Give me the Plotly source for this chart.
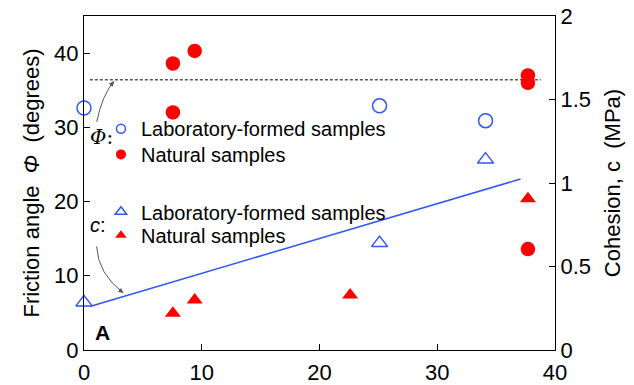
import plotly.graph_objects as go

# ---- data ----
phi_lab_x = [0, 25.1, 34.1]
phi_lab_y = [32.6, 32.9, 30.9]
phi_nat_x = [7.55, 7.55, 9.4, 37.7, 37.7, 37.7]
phi_nat_y = [38.6, 32.0, 40.3, 37.0, 36.0, 13.6]
c_lab_x = [0, 25.1, 34.1]
c_lab_y = [0.285, 0.64, 1.14]
c_nat_x = [7.55, 9.4, 22.6, 37.7]
c_nat_y = [0.22, 0.30, 0.33, 0.905]
fit_x = [0.57, 37.07]
fit_c = [0.262, 1.024]
ref_x = [0.5, 38.8]
ref_phi = [36.4, 36.4]
x_ticks = [0, 10, 20, 30, 40]
phi_ticks = [0, 10, 20, 30, 40]
c_ticks = [0, 0.5, 1, 1.5, 2]
c_tick_text = ["0", "0.5", "1", "1.5", "2"]

BLUE = "#3056F5"
RED = "#FF0000"
FONT = "Arial, Liberation Sans, sans-serif"

fig = go.Figure()

# data marks
fig.add_trace(go.Scatter(x=ref_x, y=ref_phi, mode="lines",
                         line=dict(color="black", width=1, dash="3px,2px"), showlegend=False))
fig.add_trace(go.Scatter(x=phi_lab_x, y=phi_lab_y, mode="markers", cliponaxis=False,
                         marker=dict(symbol="circle-open", size=14, color=BLUE, line=dict(width=1.5, color=BLUE)),
                         showlegend=False))
fig.add_trace(go.Scatter(x=phi_nat_x, y=phi_nat_y, mode="markers", cliponaxis=False,
                         marker=dict(symbol="circle", size=14.5, color=RED), showlegend=False))
fig.add_trace(go.Scatter(x=fit_x, y=fit_c, mode="lines", yaxis="y2",
                         line=dict(color=BLUE, width=1.5), showlegend=False))
fig.add_trace(go.Scatter(x=c_lab_x, y=c_lab_y, mode="markers", yaxis="y2", cliponaxis=False,
                         marker=dict(symbol="triangle-up-open", size=14, color=BLUE, line=dict(width=1.5, color=BLUE)),
                         showlegend=False))
fig.add_trace(go.Scatter(x=c_nat_x, y=c_nat_y, mode="markers", yaxis="y2", cliponaxis=False,
                         marker=dict(symbol="triangle-up", size=14, color=RED), showlegend=False))

# legend entries (one legend per row for exact placement)
fig.add_trace(go.Scatter(x=[None], y=[None], mode="markers", name="Laboratory-formed samples",
                         marker=dict(symbol="circle-open", size=9, color=BLUE, line=dict(width=1.5, color=BLUE)),
                         legend="legend"))
fig.add_trace(go.Scatter(x=[None], y=[None], mode="markers", name="Natural samples",
                         marker=dict(symbol="circle", size=10, color=RED), legend="legend2"))
fig.add_trace(go.Scatter(x=[None], y=[None], mode="markers", name="Laboratory-formed samples",
                         marker=dict(symbol="triangle-up-open", size=10, color=BLUE, line=dict(width=1.5, color=BLUE)),
                         legend="legend3"))
fig.add_trace(go.Scatter(x=[None], y=[None], mode="markers", name="Natural samples",
                         marker=dict(symbol="triangle-up", size=10, color=RED), legend="legend4"))

ARROW = "#555555"
fig.add_shape(type="path", xref="x", yref="y",
              path="M 1.08,30.74 Q 1.53,34.32 2.55,36.2", line=dict(color=ARROW, width=1))
fig.add_shape(type="path", xref="x", yref="y",
              path="M 1.07,13.95 Q 1.19,10.28 3.34,7.68", line=dict(color=ARROW, width=1))
fig.add_annotation(x=2.55, y=36.2, xref="x", yref="y", ax=-5, ay=6, text="", showarrow=True,
                   arrowhead=2, arrowsize=1, arrowwidth=1, arrowcolor=ARROW)
fig.add_annotation(x=3.34, y=7.68, xref="x", yref="y", ax=-6, ay=-5, text="", showarrow=True,
                   arrowhead=2, arrowsize=1, arrowwidth=1, arrowcolor=ARROW)

fig.add_annotation(x=1.5, y=28.7, xref="x", yref="y", text="<i>Φ</i>:", showarrow=False,
                   font=dict(size=20, color="black", family="DejaVu Serif, serif"))
fig.add_annotation(x=1.21, y=16.86, xref="x", yref="y", text="<i>c</i>:", showarrow=False,
                   font=dict(size=20, color="black", family=FONT))
fig.add_annotation(x=1.61, y=2.3, xref="x", yref="y", text="<b>A</b>", showarrow=False,
                   font=dict(size=21, color="black", family=FONT))

leg = dict(xref="paper", yref="paper", xanchor="left", yanchor="top",
           bgcolor="rgba(0,0,0,0)", font=dict(size=20), itemsizing="trace")

fig.update_layout(
    width=634, height=385,
    margin=dict(l=84, r=79, t=15.5, b=34.5, autoexpand=False),
    paper_bgcolor="white", plot_bgcolor="white",
    font=dict(family=FONT, size=22, color="black"),
    xaxis=dict(range=[0, 40], tickvals=x_ticks, showline=True, linecolor="black", linewidth=1.2,
               mirror=True, ticks="inside", ticklen=6, tickcolor="black", showgrid=False, zeroline=False,
               tickfont=dict(size=22), ticklabelstandoff=2, automargin=False),
    yaxis=dict(range=[0, 45], tickvals=phi_ticks, showline=True, linecolor="black", linewidth=1.2,
               ticks="inside", ticklen=6, tickcolor="black", showgrid=False, zeroline=False,
               tickfont=dict(size=22), automargin=False,
               title=dict(text="Friction angle  <i>Φ</i>  (degrees)", font=dict(size=22), standoff=8)),
    yaxis2=dict(range=[0, 2], overlaying="y", side="right", tickvals=c_ticks, ticktext=c_tick_text,
                showline=True, linecolor="black", linewidth=1.2, ticks="inside", ticklen=6,
                tickcolor="black", showgrid=False, zeroline=False, tickfont=dict(size=22), automargin=False,
                title=dict(text="Cohesion, c  (MPa)", font=dict(size=22), standoff=14)),
    legend=dict(leg, x=0.036, y=0.721),
    legend2=dict(leg, x=0.036, y=0.644),
    legend3=dict(leg, x=0.036, y=0.472),
    legend4=dict(leg, x=0.036, y=0.402),
)

fig.write_html("out.html")
